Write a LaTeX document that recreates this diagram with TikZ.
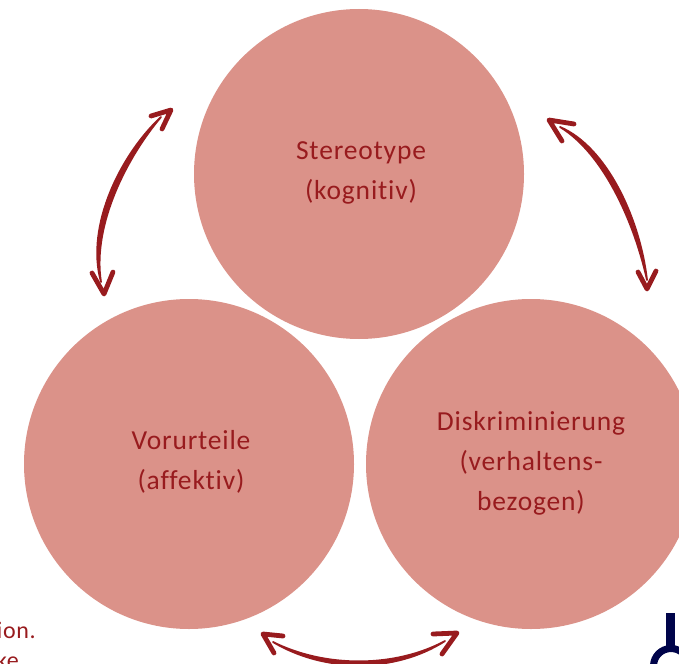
\documentclass[tikz,border=0pt]{standalone}
\usepackage{fontspec}
\setmainfont{Carlito}[LetterSpace=3,Ligatures=NoCommon]
\definecolor{circ}{HTML}{DB9289}
\definecolor{ink}{HTML}{981B1E}
\definecolor{navy}{HTML}{00044A}
\tikzset{
  x=1pt,y=-1pt,
  blob/.style={circle,fill=circ,minimum size=330pt,inner sep=0pt},
  caption/.style={text=ink,align=center,inner sep=0pt,font=\fontsize{27.5}{40}\selectfont},
  shaft/.style={draw=ink,fill=ink,line width=1.8pt,line cap=round,line join=round},
  head/.style={draw=ink,line width=4.8pt,line cap=round,line join=round},
  cut/.style={text=ink,anchor=base east,inner sep=0pt,font=\fontsize{24}{24}\selectfont},
}
\begin{document}
\begin{tikzpicture}
\useasboundingbox (0,0) rectangle (679,663);
\clip (0,0) rectangle (679,663);
\node[blob] (top) at (359,174) {};
\node[blob] (left) at (189,464) {};
\node[blob] (right) at (531,464) {};
\node[caption] (ttop) at (361,173) {Stereotype\\(kognitiv)};
\node[caption] (tleft) at (191,462) {Vorurteile\\(affektiv)};
\node[caption] (tright) at (531,463) {Diskriminierung\\(verhaltens-\\bezogen)};
\node[cut] (frag1) at (36,638) {tion.};
\node[cut] (frag2) at (19,668) {ke};
% arrow between Stereotype and Vorurteile
\coordinate (atip) at (171,110);
\coordinate (abar1) at (151,116);
\coordinate (abar2) at (162,129);
\coordinate (btip) at (104,294);
\coordinate (bbar1) at (92,273);
\coordinate (bbar2) at (113,272);
\coordinate (as) at (161,117);
\coordinate (ae) at (101,282);
\draw[shaft] (as) .. controls (127,157) and (92,225) .. (ae) .. controls (85,225) and (122,153) .. (as) -- cycle;
\draw[head] (abar1) -- (atip) -- (abar2);
\draw[head] (bbar1) -- (btip) -- (bbar2);
% arrow between Stereotype and Diskriminierung
\coordinate (ctip) at (549,120);
\coordinate (cbar1) at (574,124);
\coordinate (cbar2) at (562,141);
\coordinate (dtip) at (647,289);
\coordinate (dbar1) at (638,272);
\coordinate (dbar2) at (656,271);
\coordinate (bs) at (560,127);
\coordinate (be) at (647,280);
\draw[shaft] (bs) .. controls (603,153) and (634,221) .. (be) .. controls (640,219) and (607,147) .. (bs) -- cycle;
\draw[head] (cbar1) -- (ctip) -- (cbar2);
\draw[head] (dbar1) -- (dtip) -- (dbar2);
% arrow between Vorurteile and Diskriminierung
\coordinate (etip) at (263,634);
\coordinate (ebar1) at (283,636);
\coordinate (ebar2) at (274,653);
\coordinate (ftip) at (457,633);
\coordinate (fbar1) at (433,634);
\coordinate (fbar2) at (442,654);
\coordinate (cs) at (273,642);
\coordinate (ce) at (445,641);
\draw[shaft] (cs) .. controls (325,668) and (395,668) .. (ce) .. controls (395,673) and (325,673) .. (cs) -- cycle;
\draw[head] (ebar1) -- (etip) -- (ebar2);
\draw[head] (fbar1) -- (ftip) -- (fbar2);
% logo fragment
\fill[navy] (666,613) rectangle (675,650);
\draw[navy,line width=7pt] (671,666) circle (17.5);
\end{tikzpicture}
\end{document}
